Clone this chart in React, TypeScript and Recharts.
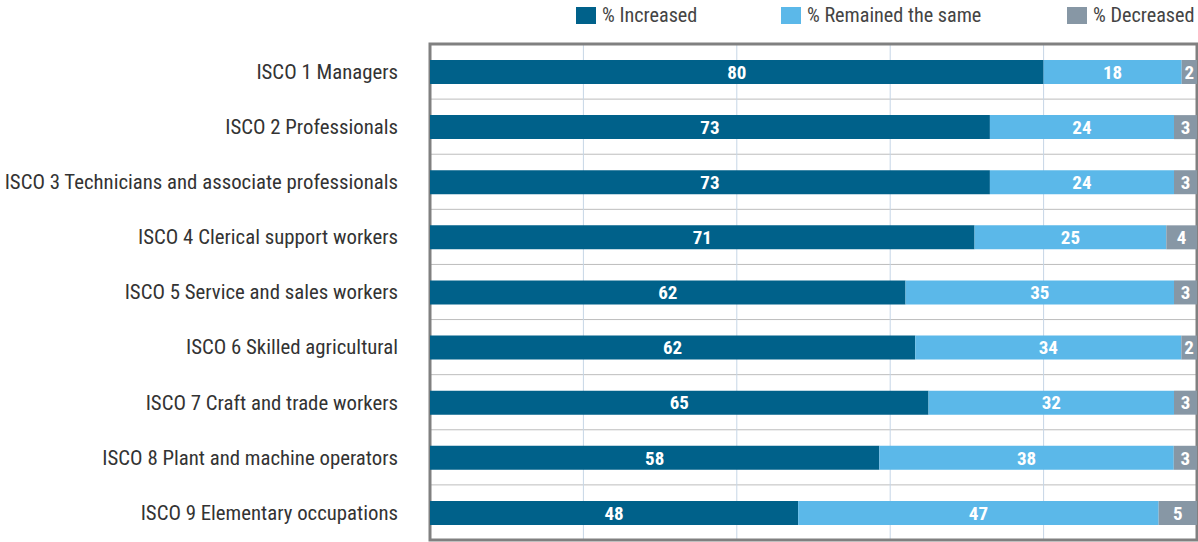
import {
  Bar,
  BarChart,
  CartesianGrid,
  LabelList,
  ReferenceArea,
  XAxis,
  YAxis,
} from "recharts";

const CATEGORIES = [
  "ISCO 1 Managers",
  "ISCO 2 Professionals",
  "ISCO 3 Technicians and associate professionals",
  "ISCO 4 Clerical support workers",
  "ISCO 5 Service and sales workers",
  "ISCO 6 Skilled agricultural",
  "ISCO 7 Craft and trade workers",
  "ISCO 8 Plant and machine operators",
  "ISCO 9 Elementary occupations",
];

const INCREASED = [80, 73, 73, 71, 62, 62, 65, 58, 48];
const SAME = [18, 24, 24, 25, 35, 34, 32, 38, 47];
const DECREASED = [2, 3, 3, 4, 3, 2, 3, 3, 5];

const GRID_TICKS = [0, 0.2, 0.4, 0.6, 0.8, 1];

const SERIES = [
  { key: "inc", name: "% Increased", color: "#00618a", legendX: 576 },
  { key: "same", name: "% Remained the same", color: "#5bb8e9", legendX: 781 },
  { key: "dec", name: "% Decreased", color: "#8797a5", legendX: 1067 },
];

const data = CATEGORIES.map((name, i) => ({
  name,
  inc: INCREASED[i],
  same: SAME[i],
  dec: DECREASED[i],
}));

// legend sits above the plot, right side
const TopLegend = () => (
  <>
    {SERIES.map((s) => (
      <div
        key={s.key}
        style={{
          position: "absolute",
          top: 3,
          left: s.legendX,
          display: "flex",
          alignItems: "center",
          fontSize: 20.2,
          color: "#444",
          whiteSpace: "nowrap",
          height: 24,
        }}
      >
        <span style={{ width: 20, height: 17, background: s.color, marginRight: 6, display: "inline-block" }} />
        <span>{s.name}</span>
      </div>
    ))}
  </>
);

export default function App() {
  return (
    <div
      style={{
        position: "relative",
        width: 1198,
        height: 542,
        fontFamily: "Roboto, sans-serif",
        fontStretch: "condensed",
        background: "#fff",
      }}
    >
      <style>{"body{margin:0}"}</style>
      <TopLegend />
      <BarChart
        width={1198}
        height={542}
        data={data}
        layout="vertical"
        stackOffset="expand"
        barSize={24}
        margin={{ top: 44, right: 1, bottom: 2, left: 0 }}
      >
        <CartesianGrid
          vertical={false}
          stroke="#bdbdbd"
          horizontalCoordinatesGenerator={({ offset }: any) =>
            CATEGORIES.map((_, i) => offset.top + (i * offset.height) / CATEGORIES.length)
          }
        />
        <CartesianGrid
          horizontal={false}
          stroke="#c6d6e6"
          verticalCoordinatesGenerator={({ offset }: any) =>
            GRID_TICKS.map((t) => offset.left + t * offset.width)
          }
        />
        <XAxis type="number" domain={[0, 1]} ticks={GRID_TICKS} hide />
        <YAxis
          type="category"
          dataKey="name"
          width={430}
          axisLine={false}
          tickLine={false}
          tickSize={0}
          tickMargin={32}
          tick={{ fill: "#333", fontSize: 20.8 }}
          interval={0}
        />
        {SERIES.map((s) => (
          <Bar key={s.key} dataKey={s.key} name={s.name} stackId="a" fill={s.color} isAnimationActive={false}>
            <LabelList
              dataKey={s.key}
              position="center"
              fill="#fff"
              fontSize={19}
              fontWeight="bold"
            />
          </Bar>
        ))}
        <ReferenceArea x1={0} x2={1} fill="none" stroke="#808080" strokeWidth={3} ifOverflow="visible" />
      </BarChart>
    </div>
  );
}
